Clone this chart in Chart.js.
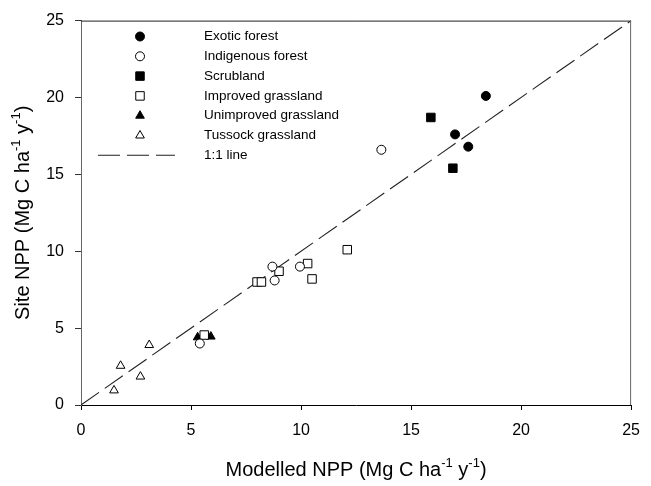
<!DOCTYPE html>
<html><head><meta charset="utf-8">
<script src="https://cdn.jsdelivr.net/npm/chart.js@4/dist/chart.umd.min.js"></script>
<style>html,body{margin:0;padding:0;background:#fff}canvas{display:block}</style>
</head><body>
<canvas id="c" width="651" height="486"></canvas>
<script>
// ---- data (x = Modelled NPP, y = Site NPP) ----
const exoticX = [18.4, 17.0, 17.6];
const exoticY = [20.1, 17.6, 16.8];
const indigenousX = [13.65, 8.7, 8.8, 9.95, 5.4];
const indigenousY = [16.6, 9.0, 8.1, 9.0, 4.0];
const scrubX = [15.9, 16.9];
const scrubY = [18.7, 15.4];
const improvedX = [12.1, 9.0, 10.3, 10.5, 8.0, 8.2, 5.6];
const improvedY = [10.1, 8.7, 9.2, 8.2, 8.0, 8.0, 4.55];
const unimprovedX = [5.3, 5.9];
const unimprovedY = [4.4, 4.45];
const tussockX = [3.1, 1.8, 2.7, 1.5];
const tussockY = [3.9, 2.55, 1.85, 0.95];
const lineX = [0, 25];
const lineY = [0, 25];
const axisTicks = [0, 5, 10, 15, 20, 25];
const seriesLabels = ['Exotic forest', 'Indigenous forest', 'Scrubland', 'Improved grassland',
  'Unimproved grassland', 'Tussock grassland', '1:1 line'];
const xTitle = [['Modelled NPP (Mg C ha', 0], ['-1', 1], [' y', 0], ['-1', 1], [')', 0]];
const yTitle = [['Site NPP (Mg C ha', 0], ['-1', 1], [' y', 0], ['-1', 1], [')', 0]];

const FONT = '"Liberation Sans", Arial, Helvetica, sans-serif';
const pts = (xs, ys) => xs.map((x, i) => ({ x: x, y: ys[i] }));

function marker(label, xs, ys, style, filled, r) {
  return {
    label: label, data: pts(xs, ys), pointStyle: style,
    pointRadius: r, pointHoverRadius: r, pointBorderWidth: 1,
    pointBackgroundColor: filled ? '#000' : '#fff', pointBorderColor: '#000',
    showLine: false
  };
}

const datasets = [
  marker(seriesLabels[0], exoticX, exoticY, 'circle', true, 4.5),
  marker(seriesLabels[1], indigenousX, indigenousY, 'circle', false, 4.5),
  marker(seriesLabels[2], scrubX, scrubY, 'rect', true, 6),
  marker(seriesLabels[3], improvedX, improvedY, 'rect', false, 6),
  marker(seriesLabels[4], unimprovedX, unimprovedY, 'triangle', true, 5),
  marker(seriesLabels[5], tussockX, tussockY, 'triangle', false, 5),
  {
    label: seriesLabels[6], data: pts(lineX, lineY), showLine: true,
    borderColor: '#222', borderWidth: 1.1, borderDash: [22, 7],
    pointRadius: 0, pointHoverRadius: 0, fill: false
  }
];

function drawRich(ctx, parts, size, supSize, supRaise) {
  let w = 0;
  const widths = parts.map(p => {
    ctx.font = (p[1] ? supSize : size) + 'px ' + FONT;
    const m = ctx.measureText(p[0]).width; w += m; return m;
  });
  let x = -w / 2;
  parts.forEach((p, i) => {
    ctx.font = (p[1] ? supSize : size) + 'px ' + FONT;
    ctx.fillText(p[0], x, p[1] ? -supRaise : 0);
    x += widths[i];
  });
}

const decor = {
  id: 'decor',
  afterDraw(chart) {
    const ctx = chart.ctx, a = chart.chartArea;
    ctx.save();
    ctx.lineWidth = 1;
    ctx.strokeStyle = '#222';
    ctx.beginPath(); ctx.moveTo(a.left, a.top + 0.5); ctx.lineTo(a.right, a.top + 0.5); ctx.stroke();
    ctx.strokeStyle = '#666';
    ctx.beginPath(); ctx.moveTo(a.right - 0.5, a.top); ctx.lineTo(a.right - 0.5, a.bottom); ctx.stroke();

    // legend
    const symX = 140, txtX = 204, y0 = 36.5, dy = 19.8;
    ctx.textBaseline = 'middle';
    ctx.textAlign = 'left';
    datasets.forEach((ds, i) => {
      const y = y0 + i * dy;
      if (i < 6) {
        ctx.fillStyle = ds.pointBackgroundColor;
        ctx.strokeStyle = ds.pointBorderColor;
        ctx.lineWidth = 1;
        Chart.helpers.drawPoint(ctx, { pointStyle: ds.pointStyle, radius: ds.pointRadius, rotation: 0, borderWidth: 1 }, symX, y);
      } else {
        ctx.strokeStyle = ds.borderColor;
        ctx.lineWidth = ds.borderWidth;
        ctx.setLineDash(ds.borderDash);
        ctx.beginPath(); ctx.moveTo(98, y); ctx.lineTo(175, y); ctx.stroke();
        ctx.setLineDash([]);
      }
      ctx.fillStyle = '#000';
      ctx.font = '13.5px ' + FONT;
      ctx.fillText(ds.label, txtX, y);
    });

    // axis titles
    ctx.fillStyle = '#000';
    ctx.textAlign = 'left';
    ctx.textBaseline = 'middle';
    ctx.save();
    ctx.translate((a.left + a.right) / 2, 470);
    drawRich(ctx, xTitle, 20, 13, 7);
    ctx.restore();
    ctx.save();
    ctx.translate(23, (a.top + a.bottom) / 2);
    ctx.rotate(-Math.PI / 2);
    drawRich(ctx, yTitle, 20, 13, 7);
    ctx.restore();
    ctx.restore();
  }
};

const tickCfg = {
  min: 0, max: 25,
  afterBuildTicks: s => { s.ticks = axisTicks.map(v => ({ value: v })); }
};

new Chart(document.getElementById('c'), {
  type: 'scatter',
  data: { datasets: datasets },
  options: {
    responsive: false, animation: false, devicePixelRatio: 1,
    layout: { padding: { left: 0, top: 15, right: 13, bottom: 0 } },
    plugins: { legend: { display: false }, tooltip: { enabled: false } },
    scales: {
      x: Object.assign({
        type: 'linear', position: 'bottom',
        border: { display: true, color: '#000', width: 1 },
        grid: { display: true, drawOnChartArea: false, drawTicks: true, tickLength: 5, color: '#000' },
        ticks: { color: '#000', font: { family: FONT, size: 16 }, padding: 11, maxRotation: 0 },
        afterFit: s => { s.height = 81; }
      }, tickCfg),
      y: Object.assign({
        type: 'linear', position: 'left',
        border: { display: true, color: '#666', width: 1 },
        grid: { display: true, drawOnChartArea: false, drawTicks: true, tickLength: 6, color: '#333' },
        ticks: { color: '#000', font: { family: FONT, size: 16 }, padding: 11 },
        afterFit: s => { s.width = 81; }
      }, tickCfg)
    }
  },
  plugins: [decor]
});
</script>
</body></html>
